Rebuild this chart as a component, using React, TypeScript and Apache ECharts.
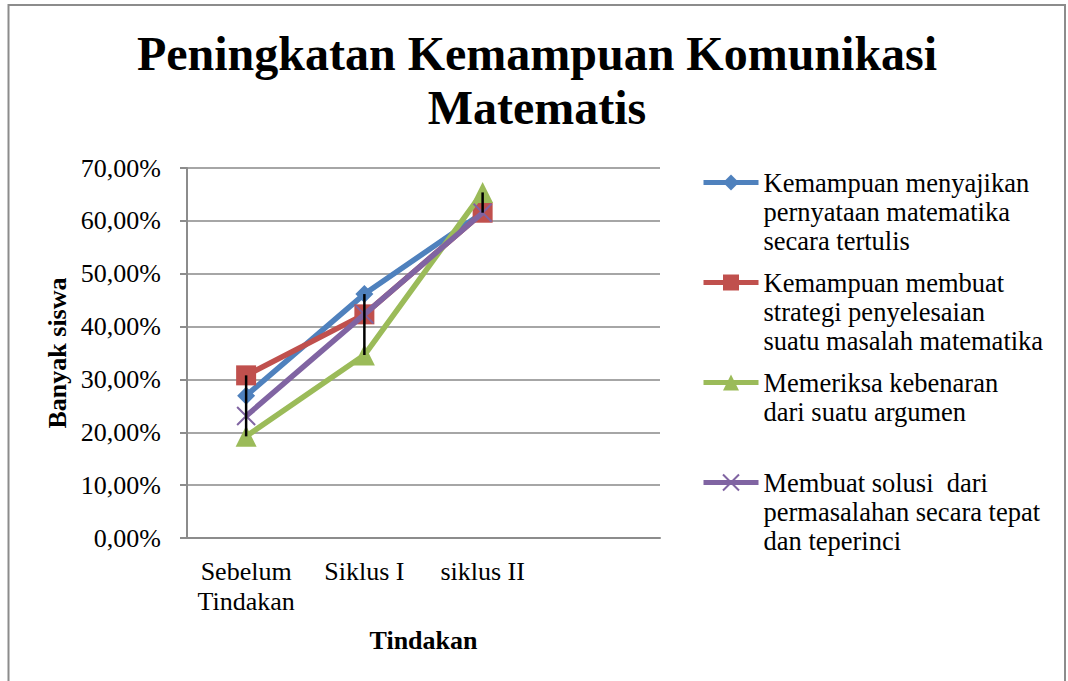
import React, { useEffect, useRef } from "react";
import * as echarts from "echarts";

const categories = ["Sebelum\nTindakan", "Siklus I", "siklus II", ""];
const seriesNames = [
  "Kemampuan menyajikan pernyataan matematika secara tertulis",
  "Kemampuan membuat strategi penyelesaian suatu masalah matematika",
  "Memeriksa kebenaran dari suatu argumen",
  "Membuat solusi  dari permasalahan secara tepat dan teperinci",
];
const legendLines = [
  "Kemampuan menyajikan\npernyataan matematika\nsecara tertulis",
  "Kemampuan membuat\nstrategi penyelesaian\nsuatu masalah matematika",
  "Memeriksa kebenaran\ndari suatu argumen\n",
  "Membuat solusi  dari\npermasalahan secara tepat\ndan teperinci",
];
const menyajikan = [26.92, 46.15, 61.54];
const strategi = [30.77, 42.31, 61.54];
const memeriksa = [19.23, 34.62, 65.38];
const solusi = [23.08, 42.31, 61.54];
const yTicks = { min: 0, max: 70, interval: 10 };

const colors = ["#4F81BD", "#C0504D", "#9BBB59", "#8064A2"];
const symbols = ["diamond", "rect", "triangle", "path://M0,0L20,20M20,0L0,20"];
const symbolSizes = [18, 20, 21, 18];
const FONT = "'Liberation Serif', 'Times New Roman', serif";

export default function App() {
  const ref = useRef<HTMLDivElement>(null);
  useEffect(() => {
    document.body.style.margin = "0";
    const chart = echarts.init(ref.current!, null, { renderer: "svg" });
    const all = [menyajikan, strategi, memeriksa, solusi];
    const hiLow = menyajikan.map((_, i) => {
      const vals = all.map((s) => s[i]);
      return [i, Math.min(...vals), Math.max(...vals)];
    });
    const option: any = {
      animation: false,
      backgroundColor: "#fff",
      graphic: [
        {
          type: "rect",
          shape: { x: 8.5, y: 5, width: 1056.5, height: 700 },
          style: { fill: "none", stroke: "#8c8c8c", lineWidth: 2 },
          silent: true,
          z: -10,
        },
      ],
      title: {
        text: "Peningkatan Kemampuan Komunikasi\nMatematis",
        left: 537,
        textAlign: "center",
        top: 26,
        padding: 0,
        textStyle: {
          fontFamily: FONT,
          fontSize: 48,
          fontWeight: "bold",
          lineHeight: 54,
          color: "#000",
        },
      },
      legend: {
        orient: "vertical",
        left: 701,
        top: 110,
        padding: 0,
        itemWidth: 55,
        itemHeight: 20,
        itemGap: -45,
        data: seriesNames,
        lineStyle: { width: 5 },
        formatter: (name: string) => "\n\n" + legendLines[seriesNames.indexOf(name)],
        textStyle: {
          fontFamily: FONT,
          fontSize: 26.5,
          lineHeight: 29,
          color: "#000",
        },
      },
      grid: { left: 187, right: 408, top: 168, bottom: 143 },
      xAxis: {
        type: "category",
        data: categories,
        boundaryGap: true,
        name: "Tindakan",
        nameLocation: "middle",
        nameGap: 89,
        nameTextStyle: { fontFamily: FONT, fontSize: 26, fontWeight: "bold", color: "#000" },
        axisLine: { lineStyle: { color: "#8c8c8c", width: 2 } },
        axisTick: { show: false },
        axisLabel: {
          interval: 0,
          margin: 18,
          fontFamily: FONT,
          fontSize: 26,
          lineHeight: 30,
          color: "#000",
        },
      },
      yAxis: {
        type: "value",
        min: yTicks.min,
        max: yTicks.max,
        interval: yTicks.interval,
        name: "Banyak siswa",
        nameLocation: "middle",
        nameRotate: 90,
        nameGap: 117,
        nameTextStyle: { fontFamily: FONT, fontSize: 26, fontWeight: "bold", color: "#000" },
        axisLine: { show: true, lineStyle: { color: "#8c8c8c", width: 2 } },
        axisTick: { show: true, length: 7, lineStyle: { color: "#8c8c8c", width: 2 } },
        splitLine: { lineStyle: { color: "#a6a6a6", width: 2 } },
        axisLabel: {
          margin: 26,
          fontFamily: FONT,
          fontSize: 26,
          color: "#000",
          formatter: (v: number) => v.toFixed(2).replace(".", ",") + "%",
        },
      },
      series: [
        ...all.map((data, i) => ({
          type: "line",
          name: seriesNames[i],
          data,
          symbol: symbols[i],
          symbolSize: symbolSizes[i],
          color: colors[i],
          lineStyle: { color: colors[i], width: 5.5 },
          itemStyle:
            i === 3
              ? { color: colors[i], borderColor: colors[i], borderWidth: 2 }
              : { color: colors[i], borderWidth: 0 },
          z: 2 + i,
        })),
        {
          type: "custom",
          name: "hiLow",
          data: hiLow,
          encode: { x: 0, y: [1, 2] },
          z: 20,
          renderItem: (params: any, api: any) => {
            const top = api.coord([api.value(0), api.value(2)]);
            const bot = api.coord([api.value(0), api.value(1)]);
            return {
              type: "line",
              shape: { x1: top[0], y1: top[1], x2: bot[0], y2: bot[1] },
              style: { stroke: "#000", lineWidth: 2.5 },
            };
          },
        },
      ],
    };
    chart.setOption(option);
    return () => chart.dispose();
  }, []);
  return <div ref={ref} style={{ width: 1068, height: 681 }} />;
}
